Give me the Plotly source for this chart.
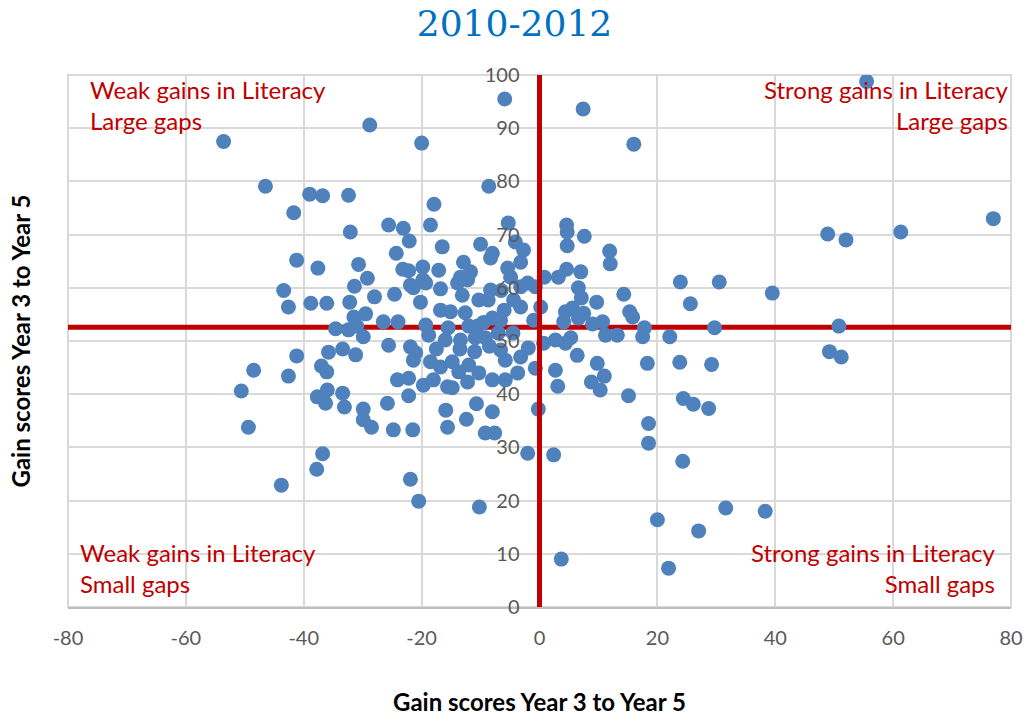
import plotly.graph_objects as go

# ---- data ----
x_gain = [
    -53.6, -46.5, -41.7, -41.2, -43.4, -42.6, -41.2, -48.5, -42.6, -50.6, -49.4, -43.8,
    -39.0, -36.8, -32.4, -32.1, -25.6, -23.1, -22.1, -17.9, -18.5, -24.3, -37.6, -30.7,
    -29.2, -31.4, -23.2, -22.2, -19.8, -21.9, -21.4, -19.8, -19.3, -38.8, -36.1, -32.2,
    -28.0, -24.6, -20.2, -31.5, -29.5, -26.5, -24.0, -34.6, -31.0, -32.4, -29.9, -25.6,
    -35.8, -33.4, -31.2, -37.0, -36.1, -21.9, -21.0, -21.4, -24.1, -22.2, -19.7, -37.7,
    -36.0, -36.3, -33.4, -33.1, -29.9, -29.9, -28.5, -25.8, -24.8, -22.2, -21.5, -36.8,
    -37.8, -28.8, -20.0, -5.9, -8.6, -21.9, -20.5, -10.2, 3.7,
    -5.3, -16.5, -10.0, -8.0, -8.3, -4.1, -2.7, -3.2, -17.1, -12.9, -13.4, -11.7, -13.9,
    -12.2, -16.8, -13.1, -8.3, -5.4, -4.9, -3.2, -2.0, -0.7, 0.8, -10.3, -8.7, -4.4, -3.2,
    0.2, -16.8, -15.1, -12.6, -19.3, -8.0, -6.6, -1.0, -10.5,
    -18.8, -16.0, -13.4, -10.9, -9.2, -6.6, -5.8, -3.2, -1.9, -0.7, 0.7, 2.7, 3.1, -18.5,
    -16.8, -14.8, -13.7, -12.0, -10.3, -12.2, -14.8, -15.6, -18.0, -8.0, -5.8, -3.7, -15.9,
    -15.6, -12.4, -10.7, -8.0, -9.2, -7.6, -0.2, -2.0, 2.4,
    -13.5, -11.0, -8.5, -7.0, -4.5, -12.0, -15.5, -9.5, -17.5, -6.0, -6.5,
    7.4, 16.0, 4.6, 4.7, 7.6, 4.7, 11.9, 12.0, 4.6, 7.0, 3.2, 6.6, 14.3, 23.9, 30.5, 25.6,
    7.1, 9.7, 4.4, 5.6, 7.5, 4.1, 6.6, 9.0, 10.7, 15.3, 15.8, 17.8, 17.5, 22.1, 29.7, 11.2,
    13.2, 5.3, 2.7,
    4.4, 6.4, 9.8, 11.0, 8.8, 10.3, 18.3, 23.8, 29.2, 15.1, 24.4, 26.1, 28.7, 18.5, 18.5,
    24.3, 31.6, 20.0, 27.0, 21.9,
    55.5, 77.0, 48.9, 52.0, 61.3, 39.5, 50.8, 49.2, 51.2, 38.3,
]
y_gap = [
    87.5, 79.1, 74.1, 65.2, 59.5, 56.4, 47.2, 44.5, 43.4, 40.6, 33.8, 22.9,
    77.6, 77.3, 77.4, 70.5, 71.8, 71.2, 68.8, 75.7, 71.8, 66.5, 63.7, 64.4,
    61.8, 60.3, 63.5, 63.2, 63.9, 60.5, 60.0, 61.5, 60.9, 57.1, 57.1, 57.3,
    58.3, 58.8, 57.3, 54.5, 55.1, 53.6, 53.6, 52.3, 52.8, 52.1, 50.8, 49.2,
    47.9, 48.5, 47.4, 45.3, 44.2, 48.9, 47.8, 46.4, 42.7, 43.0, 41.7, 39.5,
    40.8, 38.3, 40.2, 37.6, 37.2, 35.2, 33.8, 38.3, 33.3, 39.7, 33.3, 28.8,
    25.9, 90.6, 87.2, 95.5, 79.1, 24.0, 19.9, 18.8, 9.0,
    72.2, 67.7, 68.2, 66.5, 65.6, 68.6, 67.1, 64.8, 63.3, 64.8, 62.0, 63.0, 60.9,
    61.5, 59.8, 58.6, 59.6, 63.7, 62.0, 60.2, 60.9, 60.2, 62.0, 57.7, 57.7, 57.7, 56.4,
    56.4, 55.8, 55.5, 55.3, 53.0, 54.3, 53.9, 53.9, 52.8,
    51.1, 50.2, 50.2, 50.6, 50.6, 48.3, 46.4, 47.0, 48.7, 44.9, 49.6, 44.5, 41.5, 46.1,
    45.1, 46.1, 44.2, 45.5, 44.0, 42.3, 41.2, 41.4, 42.7, 42.7, 42.7, 44.0, 37.0,
    33.8, 35.3, 38.2, 36.7, 32.7, 32.7, 37.2, 28.9, 28.6,
    48.5, 48.0, 49.0, 51.5, 51.5, 52.8, 52.5, 53.5, 48.5, 55.8, 59.5,
    93.6, 87.0, 71.8, 70.5, 69.7, 67.9, 66.9, 64.5, 63.5, 63.0, 62.0, 60.0, 58.8, 61.1, 61.1, 57.0,
    58.1, 57.3, 55.5, 56.2, 55.2, 53.6, 54.3, 53.2, 53.6, 55.5, 54.5, 52.5, 50.8, 50.8, 52.5, 51.1,
    51.1, 50.6, 50.2,
    49.6, 47.3, 45.8, 43.4, 42.3, 40.8, 45.8, 46.0, 45.6, 39.7, 39.2, 38.1, 37.3, 34.5, 30.8,
    27.4, 18.6, 16.4, 14.3, 7.3,
    98.8, 73.0, 70.1, 69.0, 70.5, 59.0, 52.8, 48.0, 47.0, 18.0,
]

x_range = [-80, 80]
y_range = [0, 100]
x_ticks = [-80, -60, -40, -20, 0, 20, 40, 60, 80]
x_tick_text = ["-80", "-60", "-40", "-20", "0", "20", "40", "60", "80"]
y_ticks = [0, 10, 20, 30, 40, 50, 60, 70, 80, 90, 100]
quadrant_x = 0
quadrant_y = 52.6

title_text = "2010-2012"
x_title = "Gain scores Year 3 to Year 5"
y_title = "Gain scores Year 3 to Year 5"
quad_labels = {
    "tl": "Weak gains in Literacy<br>Large gaps",
    "tr": "Strong gains in Literacy<br>Large gaps",
    "bl": "Weak gains in Literacy<br>Small gaps",
    "br": "Strong gains in Literacy<br>Small gaps",
}

RED = "#C00000"
BLUE = "#4F81BD"
GRID = "#d9d9d9"
TICK = "#595959"
FONT = "Lato"

fig = go.Figure()

# quadrant lines
fig.add_trace(go.Scatter(x=[quadrant_x, quadrant_x], y=y_range, mode="lines",
                         line=dict(color=RED, width=5), yaxis="y2",
                         hoverinfo="skip", showlegend=False))
fig.add_trace(go.Scatter(x=x_range, y=[quadrant_y, quadrant_y], mode="lines",
                         line=dict(color=RED, width=5),
                         hoverinfo="skip", showlegend=False))

# points
fig.add_trace(go.Scatter(x=x_gain, y=y_gap, mode="markers",
                         marker=dict(color=BLUE, size=15, line=dict(width=0)),
                         showlegend=False))

fig.update_layout(
    width=1029, height=716,
    margin=dict(l=68, r=18, t=75, b=109),
    paper_bgcolor="white", plot_bgcolor="white",
    font=dict(family=FONT, color=TICK),
    title=dict(text=title_text, x=0.5, xanchor="center", y=0.968, yanchor="middle",
               font=dict(family="DejaVu Serif", size=36, color="#0070C0")),
    xaxis=dict(range=x_range, tickvals=x_ticks, ticktext=x_tick_text,
               showgrid=True, gridcolor=GRID, gridwidth=2, automargin=False,
               zeroline=False, showline=True, linecolor="#bfbfbf", linewidth=2,
               tickfont=dict(family=FONT, size=20, color=TICK), ticks="",
               ticklabelstandoff=12,
               title=dict(text="<b>" + x_title + "</b>", standoff=46,
                          font=dict(family=FONT, size=24, color="black"))),
    yaxis=dict(range=y_range, tickvals=y_ticks, showgrid=True, gridcolor=GRID, gridwidth=2,
               zeroline=False, showline=False, showticklabels=False, ticks="",
               automargin=False,
               title=dict(text="<b>" + y_title + "</b>", standoff=29,
                          font=dict(family=FONT, size=24, color="black"))),
    yaxis2=dict(range=y_range, tickvals=y_ticks, overlaying="y", anchor="free", position=0.5,
                side="left", showgrid=False, zeroline=False, showline=False, ticks="",
                ticklabelstandoff=20, automargin=False,
                tickfont=dict(family=FONT, size=20, color=TICK)),
    shapes=[dict(type="rect", xref="paper", yref="paper", x0=0, x1=1, y0=0, y1=1,
                 line=dict(color=GRID, width=2), layer="below")],
)

ann_font = dict(family=FONT, size=24, color=RED)
fig.add_annotation(text=quad_labels["tl"], xref="paper", yref="paper", x=0.021, y=1.004,
                   xanchor="left", yanchor="top", align="left", showarrow=False, font=ann_font)
fig.add_annotation(text=quad_labels["tr"], xref="paper", yref="paper", x=1.0, y=1.004,
                   xanchor="right", yanchor="top", align="right", showarrow=False, font=ann_font)
fig.add_annotation(text=quad_labels["bl"], xref="paper", yref="paper", x=0.011, y=0.013,
                   xanchor="left", yanchor="bottom", align="left", showarrow=False, font=ann_font)
fig.add_annotation(text=quad_labels["br"], xref="paper", yref="paper", x=0.986, y=0.013,
                   xanchor="right", yanchor="bottom", align="right", showarrow=False, font=ann_font)

fig.write_html("out.html")
